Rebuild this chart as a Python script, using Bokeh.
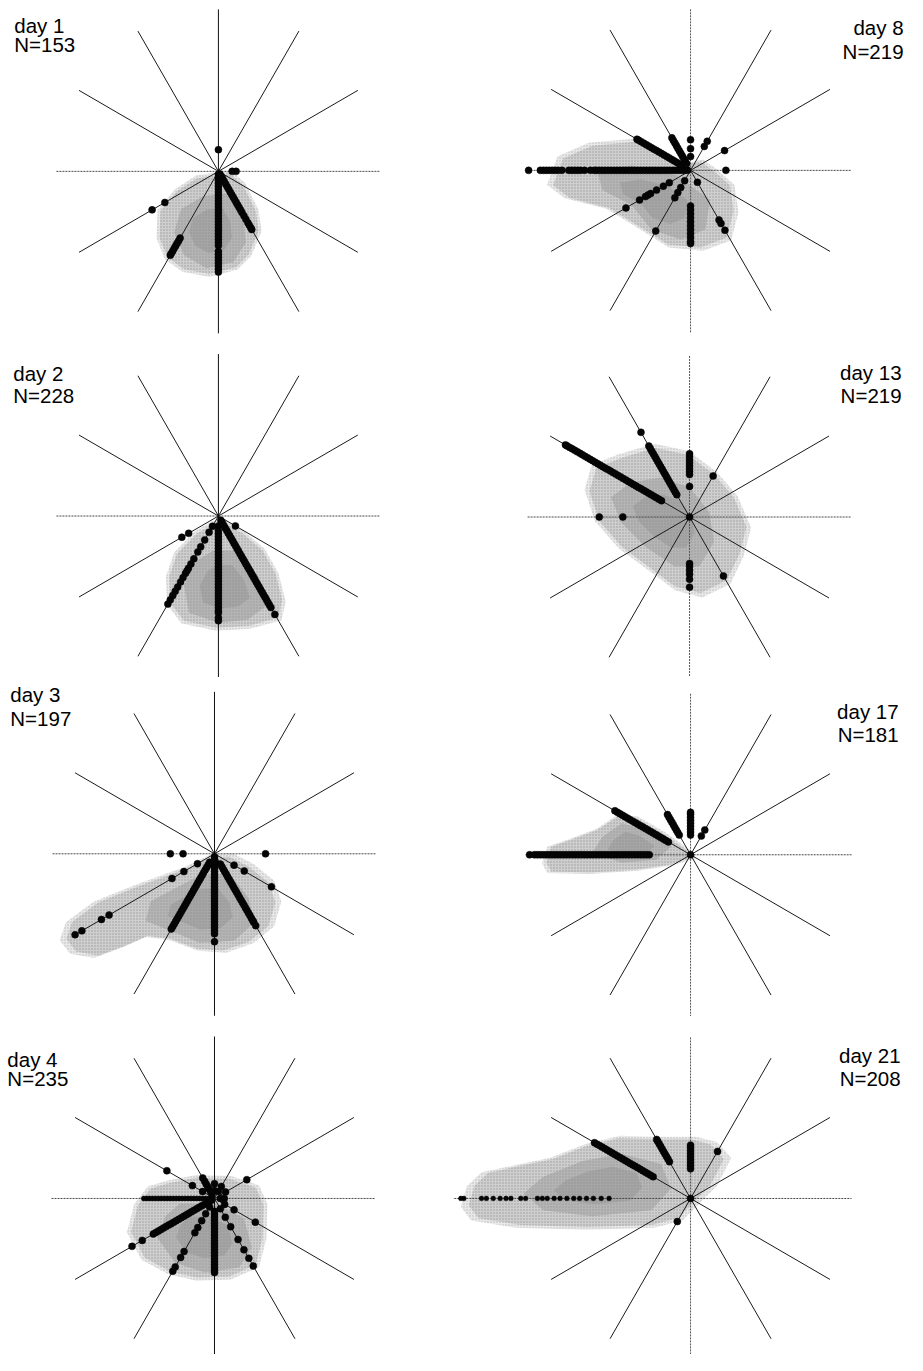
import numpy as np
from bokeh.plotting import figure
from bokeh.layouts import gridplot
from bokeh.models import Range1d
from bokeh.core.properties import value
from bokeh.embed import file_html
from bokeh.resources import INLINE

# ---------------- data (radial units: spoke length = 164) ----------------
SPOKE_ANGLES = [30, 60, 120, 150, 210, 240, 300, 330]
SPOKE_LENGTH = 164

DAY_LABELS = ["day 1", "day 2", "day 3", "day 4", "day 8", "day 13", "day 17", "day 21"]
N_COUNTS = [153, 228, 197, 235, 219, 219, 181, 208]

# dots: spoke angle (deg, 0 = east, counter-clockwise) -> radial distances
day1_dots = {
    90: [22],
    0: [14, 18],
    270: [3, 6, 9, 12, 15, 18, 21, 24, 27, 30, 33, 36, 39, 42, 45, 48, 51, 54, 57, 60,
          63, 66, 69, 72, 75, 81, 84, 87, 90, 93, 96, 99, 102],
    300: [3, 6, 9, 12, 15, 18, 21, 24, 27, 30, 33, 36, 39, 42, 45, 48, 52, 56, 60, 63, 66, 68],
    240: [78, 81, 84, 87, 90, 93, 96, 98],
    210: [63, 78],
}
day2_dots = {
    270: [10, 15, 18, 21, 24, 27, 30, 33, 36, 39, 42, 45, 48, 51, 54, 57, 60, 63, 66, 69,
          72, 75, 78, 81, 84, 87, 90, 93, 96, 98, 103, 106],
    300: [5, 8, 11, 14, 17, 20, 23, 26, 29, 32, 35, 38, 41, 44, 47, 50, 53, 56, 59, 62, 65,
          68, 71, 74, 77, 80, 83, 86, 89, 92, 95, 98, 101, 104, 107, 115],
    330: [20],
    240: [12, 19, 28, 36, 42, 50, 56, 61, 64, 67, 72, 77, 83, 88, 93, 98, 103],
    210: [35, 43],
}
day3_dots = {
    180: [32, 45],
    0: [52],
    270: [3, 6, 9, 12, 15, 18, 21, 24, 27, 30, 33, 36, 39, 42, 45, 48, 51, 54, 57, 60, 63,
          66, 69, 72, 75, 78, 81, 89],
    240: [10, 13, 16, 19, 22, 25, 28, 31, 34, 37, 40, 43, 46, 49, 52, 55, 58, 61, 64, 67,
          70, 73, 76, 79, 82, 85, 88],
    300: [12, 15, 18, 21, 24, 27, 30, 33, 36, 39, 42, 45, 48, 51, 54, 57, 60, 63, 66, 69,
          72, 75, 78, 80, 84],
    330: [23, 35, 67],
    210: [20, 36, 50, 124, 133, 156, 164],
}
day4_dots = {
    270: [13, 16, 19, 22, 25, 28, 31, 34, 37, 40, 43, 46, 49, 52, 55, 58, 61, 64, 67, 70, 73, 75],
    180: [3, 6, 9, 12, 15, 18, 21, 24, 27, 30, 33, 36, 39, 42, 45, 48, 51, 54, 57, 60, 63,
          66, 69, 72],
    210: [3, 6, 9, 12, 15, 18, 21, 24, 27, 30, 33, 36, 39, 42, 45, 48, 51, 54, 57, 60, 63,
          66, 69, 72, 85, 97],
    240: [10, 18, 26, 34, 40, 62, 69, 80, 85],
    300: [12, 22, 33, 48, 60, 70, 79],
    330: [12, 23, 48],
    30: [13, 38],
    150: [14, 26, 56],
    120: [5, 8, 11, 14, 17, 20, 24],
    90: [8, 15],
    60: [8, 14],
    0: [6, 10],
}
day8_dots = {
    180: [3, 6, 9, 12, 15, 18, 21, 24, 27, 30, 33, 36, 39, 42, 45, 48, 51, 54, 57, 60, 63,
          66, 69, 72, 75, 78, 81, 84, 87, 90, 93, 96, 98, 102, 108, 112, 115, 118, 121, 124,
          131, 135, 138, 141, 144, 147, 150, 153, 165],
    150: [10, 13, 16, 19, 22, 25, 28, 31, 34, 37, 40, 43, 46, 49, 52, 55, 58, 61, 63],
    120: [8, 11, 14, 17, 20, 23, 26, 29, 32, 35, 38],
    90: [14, 22, 31],
    60: [28, 34],
    30: [40],
    0: [36],
    300: [14, 58, 62, 70],
    270: [36, 40, 44, 48, 52, 56, 60, 64, 68, 72, 74],
    240: [12, 20, 26, 32, 71],
    210: [25, 32, 40, 47, 50, 53, 60, 76],
}
day13_dots = {
    150: [33, 36, 39, 42, 45, 48, 51, 54, 57, 60, 63, 66, 69, 72, 75, 78, 81, 84, 87, 90,
          93, 96, 99, 102, 105, 108, 111, 114, 117, 120, 123, 126, 129, 132, 135, 138, 141,
          144, 146],
    120: [26, 29, 32, 35, 38, 41, 44, 47, 50, 53, 56, 59, 62, 65, 68, 71, 74, 77, 80, 83, 99],
    90: [31, 43, 46, 49, 52, 55, 58, 61, 64],
    60: [48],
    180: [68, 92],
    270: [47, 50, 54, 58, 63, 71],
    300: [69],
    0: [0],
}
day17_dots = {
    180: [42, 45, 48, 51, 54, 57, 60, 63, 66, 69, 72, 75, 78, 81, 84, 87, 90, 93, 96, 99,
          102, 105, 108, 111, 114, 117, 120, 123, 126, 129, 132, 135, 138, 141, 144, 147,
          150, 153, 156, 159, 164],
    150: [26, 29, 32, 35, 38, 41, 44, 47, 50, 53, 56, 59, 62, 65, 68, 71, 74, 77, 80, 83,
          86, 89],
    120: [23, 26, 29, 32, 35, 38, 41, 44, 47],
    90: [20, 23, 26, 29, 32, 35, 38, 41, 43],
    60: [22, 29],
    0: [0],
}
day21_dots = {
    180: [83, 91, 99, 106, 113, 119, 126, 133, 139, 146, 151, 156, 168, 173, 183, 188, 194,
          201, 208, 213, 231, 234],
    150: [44, 47, 50, 53, 56, 59, 62, 65, 68, 71, 74, 77, 80, 83, 86, 89, 92, 95, 98, 101,
          104, 107, 110, 113],
    120: [43, 46, 49, 52, 55, 58, 61, 64, 67, 69],
    90: [30, 33, 36, 39, 42, 45, 48, 51, 54],
    60: [55],
    240: [27],
    0: [0],
}

# density clouds (outer and inner contour, x/y in the same radial units)
day1_outer = [(-22, -7), (11, -2), (25, -14), (38, -40), (41, -60), (31, -84), (18, -97),
              (-9, -104), (-35, -99), (-52, -87), (-60, -67), (-59, -40), (-42, -20)]
day1_inner = [(-15, -25), (12, -22), (25, -45), (28, -72), (15, -92), (-12, -98),
              (-35, -85), (-45, -62), (-38, -38)]
day2_outer = [(-5, -8), (-22, -18), (-42, -38), (-50, -61), (-49, -88), (-35, -106),
              (-2, -113), (31, -111), (61, -103), (65, -85), (58, -58), (45, -35),
              (25, -18), (8, -8)]
day2_inner = [(-5, -35), (20, -35), (40, -60), (50, -90), (30, -105), (0, -108),
              (-30, -98), (-35, -70), (-22, -45)]
day3_outer = [(-5, -4), (-31, -16), (-78, -33), (-118, -49), (-145, -69), (-151, -86),
              (-141, -99), (-118, -103), (-91, -93), (-68, -83), (-45, -86), (-18, -96),
              (9, -98), (35, -89), (55, -73), (62, -49), (55, -29), (35, -13), (15, -3)]
day3_inner = [(-15, -22), (15, -20), (35, -45), (40, -70), (20, -88), (-15, -90),
              (-45, -78), (-70, -68), (-65, -48), (-40, -35)]
day4_outer = [(-45, 16), (-18, 21), (15, 20), (42, 11), (50, -7), (49, -40), (42, -67),
              (15, -79), (-18, -80), (-45, -74), (-71, -60), (-85, -34), (-78, -7), (-65, 10)]
day4_inner = [(-35, -5), (0, -5), (30, -20), (38, -50), (25, -70), (-10, -75), (-40, -65),
              (-58, -40), (-50, -18)]
day8_outer = [(-10, 5), (-56, 29), (-100, 25), (-130, 12), (-140, -15), (-123, -28),
              (-83, -38), (-50, -58), (-23, -75), (10, -78), (37, -68), (44, -41),
              (40, -15), (24, -1), (10, 9)]
day8_inner = [(-15, -5), (-60, 5), (-95, 0), (-90, -20), (-60, -35), (-40, -60),
              (-10, -70), (15, -60), (20, -30)]
day13_outer = [(-69, 60), (-95, 50), (-102, 26), (-92, -4), (-69, -30), (-42, -50),
               (-15, -70), (11, -77), (38, -64), (51, -37), (58, -10), (45, 20), (25, 43),
               (-2, 63), (-35, 70)]
day13_inner = [(-60, 35), (-80, 20), (-70, -5), (-45, -30), (-15, -50), (10, -50),
               (25, -25), (20, 5), (0, 30), (-30, 40)]
day17_outer = [(-2, 3), (-29, 22), (-55, 37), (-75, 38), (-95, 25), (-122, 15), (-142, 8),
               (-147, -8), (-142, -17), (-102, -18), (-55, -15), (-22, -10), (1, -3)]
day17_inner = [(-20, 8), (-45, 25), (-70, 32), (-90, 18), (-100, 2), (-70, -8), (-35, -5)]
day21_outer = [(0, -7), (20, 13), (34, 40), (20, 55), (0, 60), (-40, 60), (-73, 61),
               (-106, 53), (-140, 40), (-173, 33), (-206, 26), (-220, 13), (-226, -7),
               (-216, -20), (-173, -27), (-106, -29), (-40, -27), (-13, -20)]
day21_inner = [(-20, 10), (-30, 35), (-70, 45), (-110, 38), (-150, 22), (-170, 5),
               (-150, -12), (-100, -18), (-40, -12)]

ALL_DOTS = [day1_dots, day2_dots, day3_dots, day4_dots, day8_dots, day13_dots, day17_dots, day21_dots]
ALL_OUTER = [day1_outer, day2_outer, day3_outer, day4_outer, day8_outer, day13_outer, day17_outer, day21_outer]
ALL_INNER = [day1_inner, day2_inner, day3_inner, day4_inner, day8_inner, day13_inner, day17_inner, day21_inner]

# ---------------- layout ----------------
REF_W, REF_H = 923, 1371
COL_W = [453, 453]
ROW_H = [339, 338, 339, 338]
SX = sum(COL_W) / REF_W
SY = sum(ROW_H) / REF_H

PANEL_POS = [(0, 0), (1, 0), (2, 0), (3, 0), (0, 1), (1, 1), (2, 1), (3, 1)]
CENTERS = [(222, 173), (222, 522), (218, 864), (218, 1213),
           (703, 172), (702, 523), (703, 865), (703, 1213)]
LABEL_X = [-208, -209, -208, -211, 217, 216, 212, 214]
LABEL_Y1 = [148, 144, 161, 141, 145, 146, 145, 145]
LABEL_Y2 = [128, 122, 137, 121, 120, 123, 122, 121]
H_LEFT = [165, 165, 165, 166, 166, 165, 168, 259]
FONT = value("Liberation Sans")


def scaled(poly, k):
    """Same contour, grown by factor k about its centroid (soft halo)."""
    px = np.array([q[0] for q in poly], dtype=float)
    py = np.array([q[1] for q in poly], dtype=float)
    mx, my = px.mean(), py.mean()
    return list(mx + k * (px - mx)), list(my + k * (py - my))


figs = {}
for i in range(8):
    row, col = PANEL_POS[i]
    cx, cy = CENTERS[i]
    x0 = sum(COL_W[:col]) / SX
    x1 = sum(COL_W[:col + 1]) / SX
    y0 = sum(ROW_H[:row]) / SY
    y1 = sum(ROW_H[:row + 1]) / SY
    p = figure(width=COL_W[col], height=ROW_H[row],
               x_range=Range1d(x0 - cx, x1 - cx), y_range=Range1d(cy - y1, cy - y0),
               output_backend="svg", toolbar_location=None, min_border=0,
               x_axis_location=None, y_axis_location=None,
               outline_line_color=None, background_fill_color="white",
               border_fill_color="white")
    p.grid.visible = False

    # density cloud: light halo, outer contour, denser core
    hx, hy = scaled(ALL_OUTER[i], 1.06)
    p.patch(hx, hy, fill_color="#e2e2e2", fill_alpha=0.8, line_color=None,
            hatch_pattern="dot", hatch_color="#b0b0b0", hatch_scale=3, hatch_alpha=0.8)
    ox, oy = zip(*ALL_OUTER[i])
    p.patch(list(ox), list(oy), fill_color="#cbcbcb", fill_alpha=0.9, line_color=None,
            hatch_pattern="dot", hatch_color="#8e8e8e", hatch_scale=3, hatch_alpha=0.7)
    ix, iy = zip(*ALL_INNER[i])
    p.patch(list(ix), list(iy), fill_color="#9a9a9a", fill_alpha=0.5, line_color=None)
    kx, ky = scaled(ALL_INNER[i], 0.6)
    p.patch(kx, ky, fill_color="#8a8a8a", fill_alpha=0.35, line_color=None)

    # spokes
    a = np.radians(SPOKE_ANGLES)
    p.segment(x0=np.zeros(len(a)), y0=np.zeros(len(a)),
              x1=SPOKE_LENGTH * np.cos(a), y1=SPOKE_LENGTH * np.sin(a),
              line_color="#1a1a1a", line_width=1)
    # horizontal and vertical axes
    p.segment(x0=[-H_LEFT[i]], y0=[0], x1=[SPOKE_LENGTH], y1=[0],
              line_color="#4a4a4a", line_width=1, line_dash="2 1")
    if col == 0:
        p.segment(x0=[0], y0=[-SPOKE_LENGTH], x1=[0], y1=[SPOKE_LENGTH],
                  line_color="#111111", line_width=1)
    else:
        p.segment(x0=[0], y0=[-SPOKE_LENGTH], x1=[0], y1=[SPOKE_LENGTH],
                  line_color="#555555", line_width=1, line_dash="2 1")

    # dots
    xs, ys, sizes = [], [], []
    for ang, radii in ALL_DOTS[i].items():
        t = np.radians(ang)
        for r in radii:
            xs.append(r * np.cos(t))
            ys.append(r * np.sin(t))
            if i == 7 and ang == 180:
                sizes.append(4.8)
            elif i == 3 and ang == 180:
                sizes.append(5.0)
            else:
                sizes.append(7.0)
    p.scatter(xs, ys, size=sizes, marker="circle", fill_color="#050505",
              line_color="#050505", line_width=0.5)

    # labels
    align = "left" if col == 0 else "right"
    p.text(x=[LABEL_X[i], LABEL_X[i]], y=[LABEL_Y1[i], LABEL_Y2[i]],
           text=[DAY_LABELS[i], "N=%d" % N_COUNTS[i]],
           text_font=FONT, text_font_size="20.5px", text_color="#000000",
           text_align=align, text_baseline="alphabetic")
    figs[(row, col)] = p

children = [[figs[(r, 0)], figs[(r, 1)]] for r in range(4)]
grid = gridplot(children, toolbar_location=None)
open("out.html", "w").write(file_html(grid, INLINE))
